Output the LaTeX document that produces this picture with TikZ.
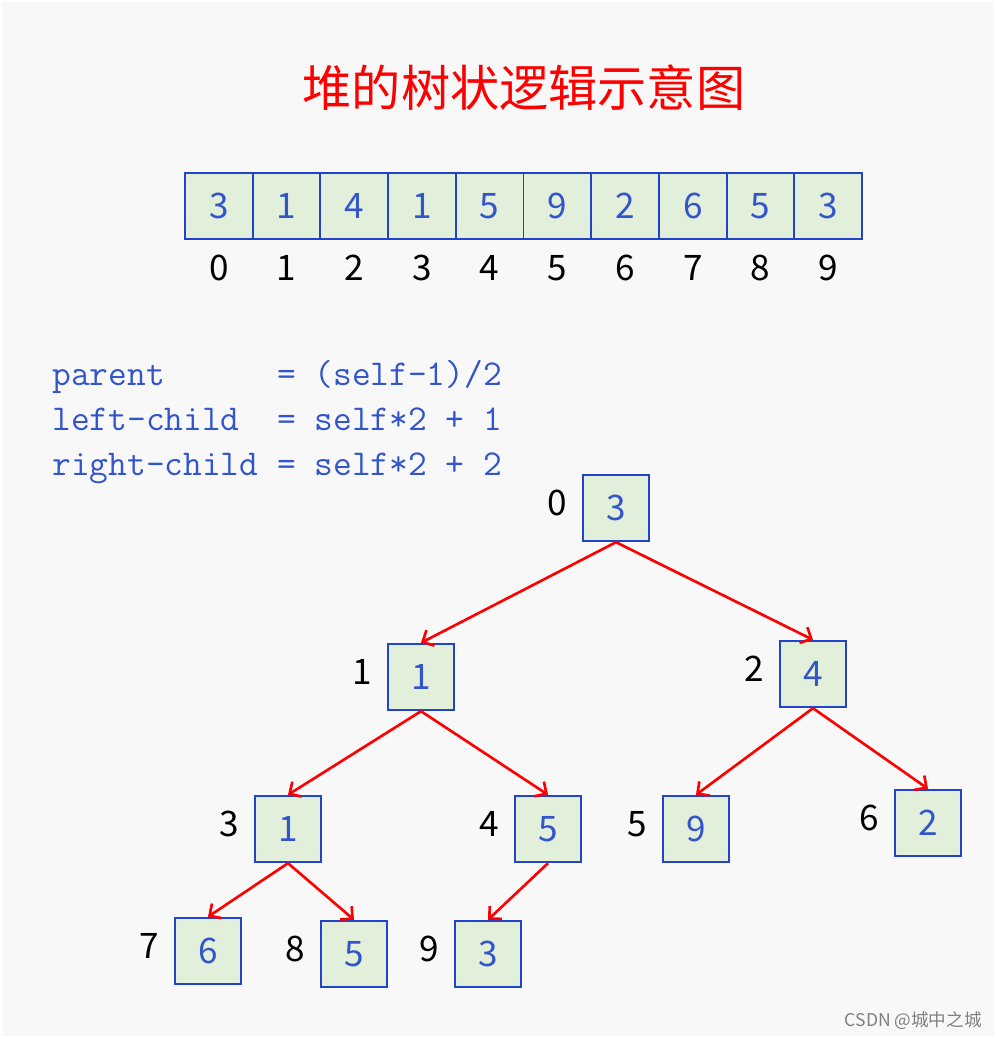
\documentclass[tikz,border=0pt]{standalone}
\usepackage{fontspec}
\setmainfont{Noto Sans CJK SC}
\usetikzlibrary{arrows.meta, positioning}
\definecolor{cellfill}{RGB}{226,239,218}
\definecolor{cellline}{RGB}{34,68,204}
\definecolor{numblue}{RGB}{51,85,204}
\definecolor{bggray}{RGB}{248,248,248}
\tikzstyle{cell} = [rectangle, draw=cellline, fill=cellfill, line width=1.1pt, minimum size=1.33cm, inner sep=0pt, text=numblue, font=\fontsize{20}{24}\selectfont]
\tikzstyle{idx} = [inner sep=0pt, font=\fontsize{20}{24}\selectfont]
\tikzstyle{code} = [anchor=base west, inner sep=0pt, text=numblue, font=\fontsize{20.7}{24}\ttfamily]
\tikzstyle{arrow} = [draw=red, line width=1.5pt, -{Straight Barb[length=5pt,width=10pt]}]

\begin{document}
\begin{tikzpicture}[x=0.02cm, y=-0.02cm]
    \fill[white] (0,0) rectangle (997,1039);
    \fill[bggray] (2,2) rectangle (994,1036);

    \node (title) [text=red, font=\fontsize{28}{32}\selectfont] at (524,88) {堆的树状逻辑示意图};

    % array with indices
    \foreach \v [count=\i from 0] in {3,1,4,1,5,9,2,6,5,3} {
        \node (a\i) [cell, minimum width=1.354cm] at (218.85+67.7*\i, 206) {\v};
        \node (i\i) [idx] at (218.85+67.7*\i, 268) {\i};
    }

    \node (c1) [code] at (52,385) {parent\ \ \ \ \ \ = (self-1)/2};
    \node (c2) [code] at (52,430) {left-child\ \ = self*2 + 1};
    \node (c3) [code] at (52,475) {right-child = self*2 + 2};

    % tree
    \node (n0) [cell] at (616,508) {3};
    \node (n1) [cell] at (421,677) {1};
    \node (n2) [cell] at (813,674) {4};
    \node (n3) [cell] at (288,829) {1};
    \node (n4) [cell] at (548,829) {5};
    \node (n5) [cell] at (696,829) {9};
    \node (n6) [cell] at (928,823) {2};
    \node (n7) [cell] at (208,951) {6};
    \node (n8) [cell] at (354,954) {5};
    \node (n9) [cell] at (488,954) {3};

    \foreach \k in {0,...,9}
        \node (l\k) [idx, left=0.28cm of n\k, yshift=0.1cm] {\k};

    \draw [arrow] (n0.south) -- (n1.north);
    \draw [arrow] (n0.south) -- (n2.north);
    \draw [arrow] (n1.south) -- (n3.north);
    \draw [arrow] (n1.south) -- (n4.north);
    \draw [arrow] (n2.south) -- (n5.north);
    \draw [arrow] (n2.south) -- (n6.north);
    \draw [arrow] (n3.south) -- (n7.north);
    \draw [arrow] (n3.south) -- (n8.north);
    \draw [arrow] (n4.south) -- (n9.north);

    \node (mark) [anchor=east, inner sep=0pt, text=black!50, font=\fontsize{10}{12}\selectfont] at (982,1021) {CSDN @城中之城};
\end{tikzpicture}
\end{document}
